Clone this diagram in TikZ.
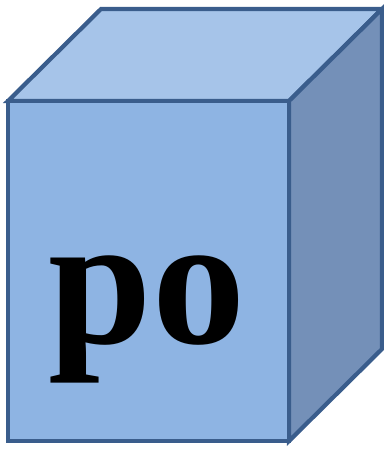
\documentclass[tikz,border=0pt]{standalone}
\usepackage{fontspec}
\newfontfamily\letrafont{Liberation Serif Bold}
\definecolor{CubeEdge}{HTML}{3A5D8C}
\definecolor{CubeFront}{HTML}{8EB4E3}
\definecolor{CubeTop}{HTML}{A6C4E9}
\definecolor{CubeSide}{HTML}{7490B8}
\tikzset{
  cara/.style  = {draw=CubeEdge, line width=2.4pt, line join=miter},
  letra/.style = {font=\fontsize{106}{106}\letrafont, inner sep=0pt,
                  anchor=base},
}

\begin{document}
\begin{tikzpicture}[x=0.02cm, y=-0.02cm]
  \useasboundingbox (0,0) rectangle (384,449);
  % caras del cubo
  \filldraw[cara, fill=CubeTop]   (8,101) -- (101,9) -- (382,9) -- (289,101) -- cycle;
  \filldraw[cara, fill=CubeSide]  (289,101) -- (382,9) -- (382,349) -- (289,441) -- cycle;
  \filldraw[cara, fill=CubeFront] (8,101) rectangle (289,441);
  \node[letra] (txt) at (147,343) {po};
\end{tikzpicture}
\end{document}
